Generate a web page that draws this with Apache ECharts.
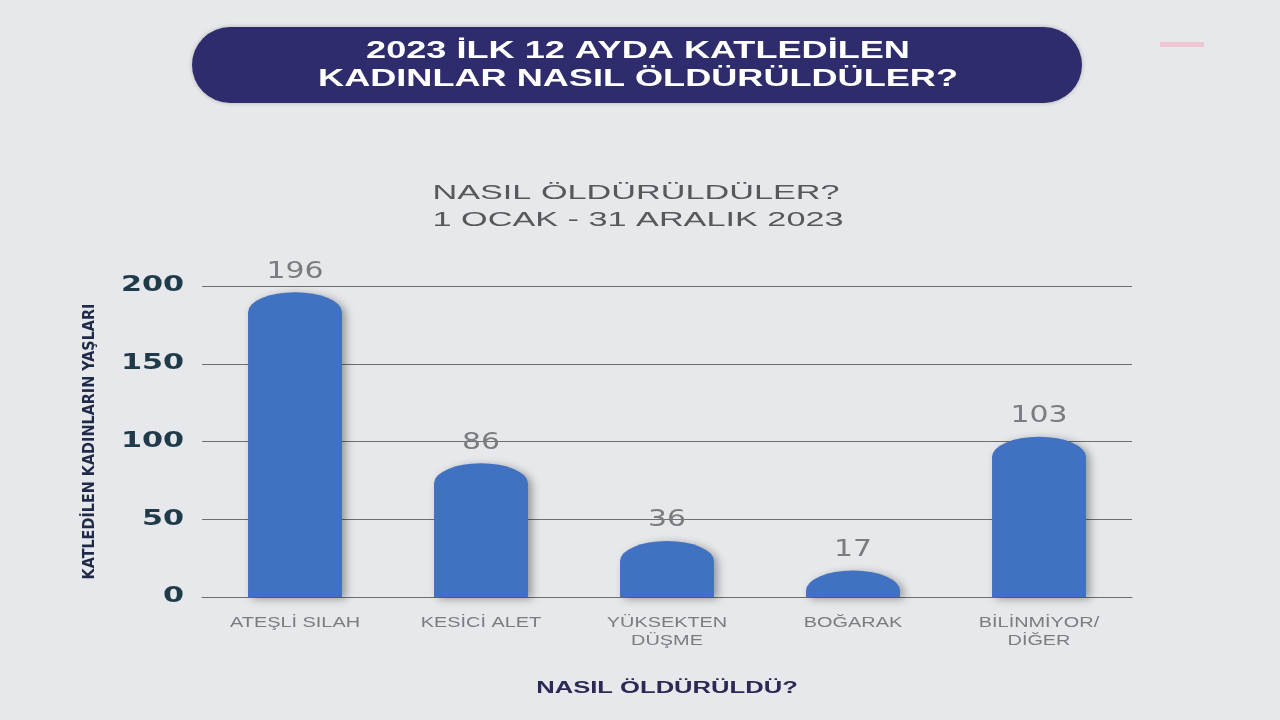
<!DOCTYPE html>
<html><head><meta charset="utf-8">
<script src="https://cdn.jsdelivr.net/npm/echarts@6/dist/echarts.min.js"></script>
<style>html,body{margin:0;padding:0;background:#E6E8EB;}#c{width:1280px;height:720px;}</style>
</head><body><div id="c"></div>
<script>
const categories = ['ATEŞLİ SILAH', 'KESİCİ ALET', 'YÜKSEKTEN\nDÜŞME', 'BOĞARAK', 'BİLİNMİYOR/\nDİĞER'];
const values = [196, 86, 36, 17, 103];
const yTicks = [0, 50, 100, 150, 200];
const titleLines = ['2023 İLK 12 AYDA KATLEDİLEN', 'KADINLAR NASIL ÖLDÜRÜLDÜLER?'];
const subtitleLines = ['NASIL ÖLDÜRÜLDÜLER?', '1 OCAK - 31 ARALIK 2023'];
const xAxisName = 'NASIL ÖLDÜRÜLDÜ?';
const yAxisName = 'KATLEDİLEN KADINLARIN YAŞLARI';

const chart = echarts.init(document.getElementById('c'));
chart.setOption({
  backgroundColor: '#E6E8EB',
  animation: false,
  graphic: [
    { type: 'rect', shape: { x: 192, y: 27, width: 890, height: 76, r: 38 }, style: { fill: '#2E2C6C', shadowBlur: 4, shadowColor: 'rgba(0,0,0,0.25)' }, z: 0 },
    { type: 'rect', shape: { x: 1160, y: 42, width: 44, height: 5 }, style: { fill: '#F1C6D3' } },
    { type: 'text', x: 638, y: 52, scaleX: 1.57, z: 5,
      style: { text: titleLines[0], align: 'center', verticalAlign: 'middle', fill: '#FFFFFF', font: 'bold 23px "Liberation Sans", Arial' } },
    { type: 'text', x: 638, y: 80, scaleX: 1.57, z: 5,
      style: { text: titleLines[1], align: 'center', verticalAlign: 'middle', fill: '#FFFFFF', font: 'bold 23px "Liberation Sans", Arial' } },
    { type: 'text', x: 636, y: 193, scaleX: 1.63,
      style: { text: subtitleLines[0], align: 'center', verticalAlign: 'middle', fill: '#56585C', font: 'normal 21px "Liberation Sans", Arial' } },
    { type: 'text', x: 638, y: 220, scaleX: 1.63,
      style: { text: subtitleLines[1], align: 'center', verticalAlign: 'middle', fill: '#56585C', font: 'normal 21px "Liberation Sans", Arial' } },
    { type: 'text', x: 667, y: 689, scaleX: 1.6,
      style: { text: xAxisName, align: 'center', verticalAlign: 'middle', fill: '#2B2A55', font: 'bold 16px "Liberation Sans", Arial' } }
  ],
  grid: { left: 202, right: 148, top: 286, bottom: 123 },
  xAxis: {
    type: 'category', data: categories,
    axisLine: { lineStyle: { color: '#6E6E6E', width: 1 } },
    axisTick: { show: false },
    axisLabel: { show: false }
  },
  yAxis: {
    type: 'value', min: 0, max: 200, interval: 50,
    axisLine: { show: false }, axisTick: { show: false },
    splitLine: { lineStyle: { color: '#6E6E6E', width: 1 } },
    axisLabel: { show: false },
    name: yAxisName, nameLocation: 'middle', nameGap: 104, nameRotate: 90,
    nameTextStyle: { color: '#1F2A48', fontSize: 16, fontWeight: 'bold', fontFamily: 'Liberation Sans Narrow, DejaVu Sans Condensed, Arial' }
  },
  series: [{
    type: 'custom',
    data: values.map((v, i) => [i, v]),
    encode: { x: 0, y: 1 },
    renderItem: function (params, api) {
      const idx = api.value(0);
      const v = api.value(1);
      const base = api.coord([idx, 0]);
      const top = api.coord([idx, v]);
      const w = api.size([1, 0])[0] * 0.505;
      const x0 = base[0] - w / 2, x1 = base[0] + w / 2;
      const h = base[1] - top[1];
      const ry = Math.min(20, h);
      const rx = w / 2;
      const d = 'M' + x0 + ' ' + base[1] + ' L' + x0 + ' ' + (top[1] + ry) +
        ' A' + rx + ' ' + ry + ' 0 0 1 ' + x1 + ' ' + (top[1] + ry) +
        ' L' + x1 + ' ' + base[1] + ' Z';
      return {
        type: 'group',
        children: [
          { type: 'path', shape: { pathData: d },
            style: { fill: '#4172C2', shadowBlur: 8, shadowOffsetX: 4, shadowOffsetY: 2, shadowColor: 'rgba(0,0,0,0.35)' } },
          { type: 'text', x: base[0], y: top[1] - 9, scaleX: 1.3,
            style: { text: String(v), x: 0, y: 0, align: 'center', verticalAlign: 'bottom',
              fill: '#7A7C80', font: 'normal 23px "DejaVu Sans"' } },
          { type: 'text', x: base[0], y: base[1] + 17, scaleX: 1.42,
            style: { text: categories[idx], x: 0, y: 0, align: 'center', verticalAlign: 'top', lineHeight: 18,
              fill: '#7A7C80', font: 'normal 14px "Liberation Sans", Arial' } }
        ]
      };
    }
  }, {
    type: 'custom',
    data: yTicks.map(t => [0, t]),
    encode: { x: 0, y: 1 },
    silent: true,
    renderItem: function (params, api) {
      const p = api.coord([0, api.value(1)]);
      return { type: 'text', x: params.coordSys.x - 18, y: p[1], scaleX: 1.44,
        style: { text: String(api.value(1)), x: 0, y: 0, align: 'right', verticalAlign: 'middle',
          fill: '#1F3B4A', font: 'bold 21px "DejaVu Sans"' } };
    }
  }]
});
</script>
</body></html>
